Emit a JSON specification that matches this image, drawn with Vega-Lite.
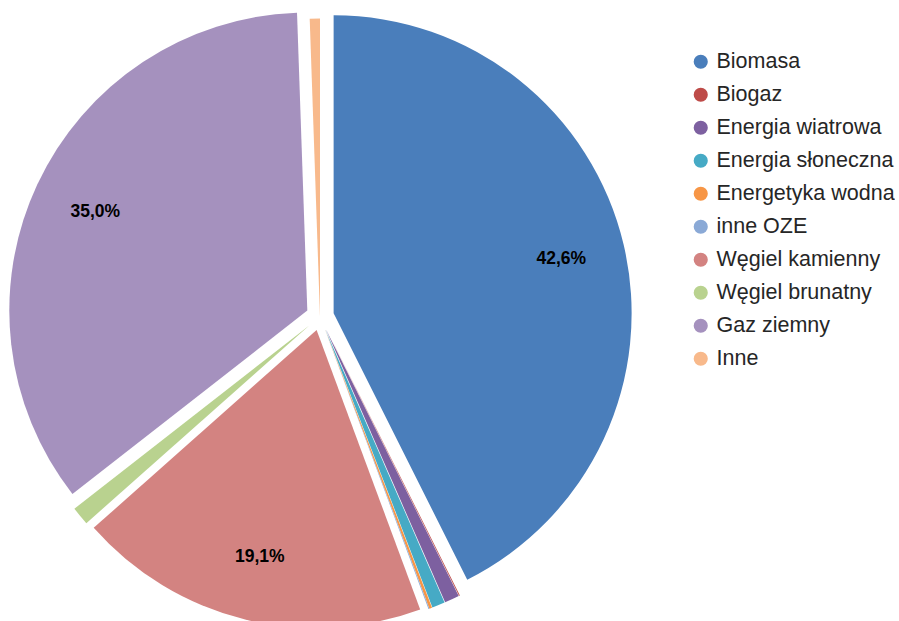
{
  "$schema": "https://vega.github.io/schema/vega-lite/v6.json",
  "width": 640,
  "height": 633,
  "padding": 0,
  "autosize": {"type": "pad"},
  "background": "white",
  "config": {
    "view": {"stroke": null},
    "locale": {"number": {"decimal": ",", "thousands": " ", "grouping": [3], "currency": ["", " zł"]}}
  },
  "data": {
    "values": [
      {"kategoria": "Biomasa", "udzial": 0.426},
      {"kategoria": "Biogaz", "udzial": 0.0005},
      {"kategoria": "Energia wiatrowa", "udzial": 0.008},
      {"kategoria": "Energia słoneczna", "udzial": 0.007},
      {"kategoria": "Energetyka wodna", "udzial": 0.0015},
      {"kategoria": "inne OZE", "udzial": 0.0005},
      {"kategoria": "Węgiel kamienny", "udzial": 0.191},
      {"kategoria": "Węgiel brunatny", "udzial": 0.010},
      {"kategoria": "Gaz ziemny", "udzial": 0.350},
      {"kategoria": "Inne", "udzial": 0.0055}
    ]
  },
  "transform": [{"window": [{"op": "row_number", "as": "kolejnosc"}]}],
  "encoding": {
    "theta": {"field": "udzial", "type": "quantitative", "stack": true},
    "order": {"field": "kolejnosc", "type": "quantitative"}
  },
  "layer": [
    {
      "mark": {
        "type": "arc",
        "outerRadius": 298,
        "xOffset": {"expr": "(datum.kategoria == 'Inne' ? 0 : 14)*sin((scale('theta', datum.udzial_start) + scale('theta', datum.udzial_end))/2)"},
        "yOffset": {"expr": "-(datum.kategoria == 'Inne' ? 0 : 14)*cos((scale('theta', datum.udzial_start) + scale('theta', datum.udzial_end))/2)"}
      },
      "encoding": {
        "color": {
          "field": "kategoria",
          "type": "nominal",
          "sort": null,
          "scale": {
            "domain": ["Biomasa", "Biogaz", "Energia wiatrowa", "Energia słoneczna", "Energetyka wodna", "inne OZE", "Węgiel kamienny", "Węgiel brunatny", "Gaz ziemny", "Inne"],
            "range": ["#4A7EBB", "#BE4B48", "#7D60A0", "#46AAC5", "#F79646", "#8AA9D6", "#D38381", "#B9D28F", "#A591BE", "#F8B98B"]
          },
          "legend": {
            "orient": "none",
            "legendX": 690,
            "legendY": 51,
            "title": null,
            "symbolType": "circle",
            "symbolSize": 200,
            "symbolStrokeWidth": 0,
            "labelFont": "Liberation Sans",
            "labelFontSize": 21.5,
            "labelColor": "#262626",
            "labelOffset": 5,
            "rowPadding": 10,
            "labelLimit": 400
          }
        }
      }
    },
    {
      "mark": {
        "type": "text",
        "radius": 234,
        "font": "Liberation Sans",
        "fontWeight": "bold",
        "fontSize": 17.5,
        "xOffset": {"expr": "14*sin((scale('theta', datum.udzial_start) + scale('theta', datum.udzial_end))/2)"},
        "yOffset": {"expr": "-14*cos((scale('theta', datum.udzial_start) + scale('theta', datum.udzial_end))/2)"}
      },
      "encoding": {
        "color": {"value": "#000000"},
        "text": {
          "condition": {"test": "datum.udzial > 0.1", "field": "udzial", "type": "quantitative", "format": ".1%"},
          "value": ""
        }
      }
    }
  ]
}
